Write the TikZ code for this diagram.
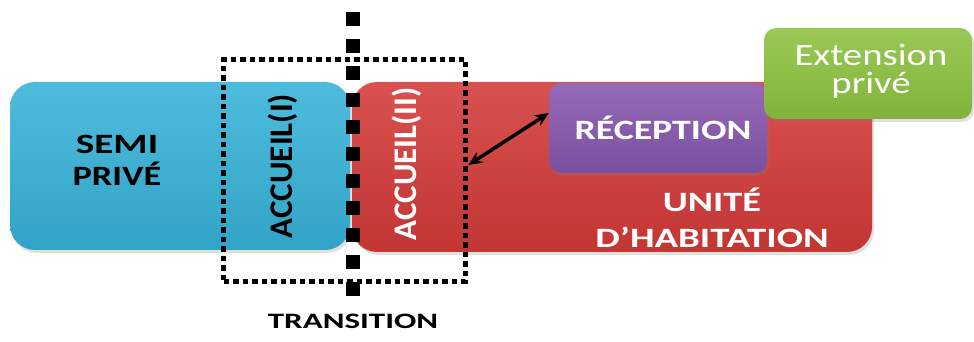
\documentclass[tikz,border=0pt]{standalone}
\usepackage{fontspec}
\setmainfont{Carlito}
\usepackage{graphicx}
\usetikzlibrary{arrows.meta,shadows}

\definecolor{semiblue}{HTML}{36B2D8}
\definecolor{unitred}{HTML}{D33A38}
\definecolor{recpurple}{HTML}{8656AE}
\definecolor{extgreen}{HTML}{8CC23E}

\newcommand{\wide}[2][1.35]{\scalebox{#1}[1]{#2}}

\tikzset{
  box/.style={rounded corners=25pt, inner sep=0pt,
    top color=#1!88!white, bottom color=#1!92!black,
    drop shadow={opacity=0.25,shadow xshift=2pt,shadow yshift=-3pt}},
  lbl/.style={text=white, align=center, font=\bfseries\fontsize{28}{32}\selectfont},
  acc/.style={rotate=90, font=\bfseries\fontsize{33}{36}\selectfont}
}

\begin{document}
\begin{tikzpicture}[x=1pt,y=1pt,>=Stealth]
  \useasboundingbox (0,0) rectangle (974,342);
  % zones
  \node[box=semiblue, minimum width=340pt, minimum height=168pt] (semi) at (180,176) {};
  \node[box=unitred, minimum width=520pt, minimum height=170pt] (unit) at (612,175) {};
  \node[box=recpurple, rounded corners=12pt, minimum width=218pt, minimum height=90pt] (rec) at (658,214) {};
  \node[box=extgreen, rounded corners=12pt, minimum width=208pt, minimum height=91pt] (ext) at (868,268.5) {};
  % labels
  \node[lbl, text=black] (semitxt) at (117,182) {\wide[1.4]{SEMI}\\\wide[1.3]{PRIVÉ}};
  \node[acc] (acc1) at (283,176) {ACCUEIL(I)};
  \node[acc, text=white] (acc2) at (407,178) {ACCUEIL(II)};
  \node[lbl] (rectxt) at (663,214) {\wide{RÉCEPTION}};
  \node[lbl, font=\bfseries\fontsize{28}{36}\selectfont] (unittxt) at (712,124) {\wide[1.37]{UNITÉ}\\\wide[1.39]{D’HABITATION}};
  \node[lbl, font=\fontsize{31}{28}\selectfont] (exttxt) at (871,271) {\wide[1.25]{Extension}\\\wide[1.25]{privé}};
  \node[font=\bfseries\fontsize{22}{24}\selectfont] (transtxt) at (353,21) {\wide[1.5]{TRANSITION}};
  % transition
  \node[draw, line width=5.5pt, dash pattern=on 5.5pt off 4pt, minimum width=242pt, minimum height=222pt] (trans) at (344.5,171.5) {};
  \draw[line width=14pt, dash pattern=on 14pt off 13pt] (353,330) -- (353,42);
  \draw[{Stealth[length=14pt,width=12pt]}-{Stealth[length=14pt,width=12pt]}, line width=3.5pt]
    ([yshift=5.5pt]trans.east) -- ([yshift=15pt]rec.west);
\end{tikzpicture}
\end{document}
